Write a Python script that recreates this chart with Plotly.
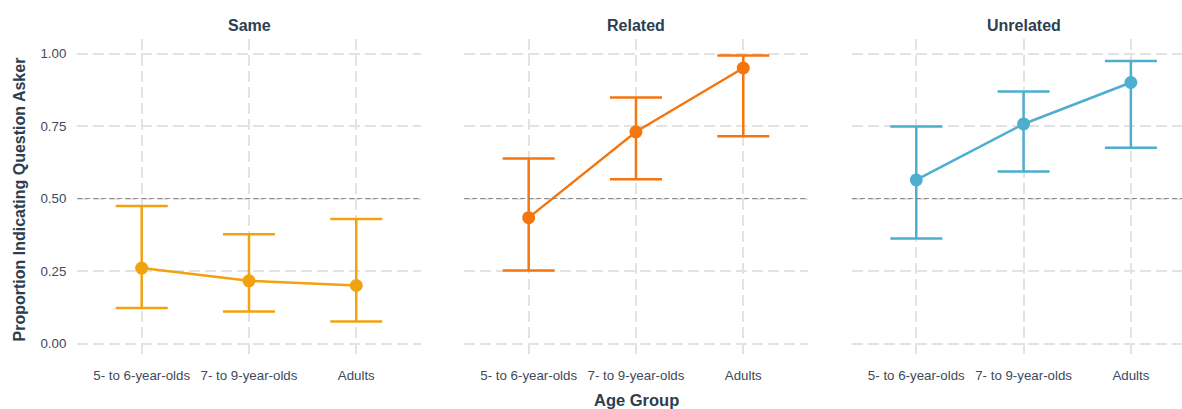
import plotly.graph_objects as go

# ---- data ----
age_groups = ["5- to 6-year-olds", "7- to 9-year-olds", "Adults"]
conditions = ["Same", "Related", "Unrelated"]

same_mean = [0.260, 0.216, 0.200]
same_low = [0.122, 0.110, 0.076]
same_high = [0.474, 0.377, 0.429]

related_mean = [0.434, 0.730, 0.950]
related_low = [0.252, 0.566, 0.715]
related_high = [0.638, 0.848, 0.993]

unrelated_mean = [0.564, 0.757, 0.900]
unrelated_low = [0.362, 0.593, 0.675]
unrelated_high = [0.748, 0.869, 0.974]

y_ticks = [0.0, 0.25, 0.5, 0.75, 1.0]
y_tick_labels = ["0.00", "0.25", "0.50", "0.75", "1.00"]
chance_level = 0.5

colors = ["#F2A20E", "#F5760F", "#4DAECF"]

means = [same_mean, related_mean, unrelated_mean]
lows = [same_low, related_low, unrelated_low]
highs = [same_high, related_high, unrelated_high]

W, H = 1182, 409
FONT = "Liberation Sans, Arial, sans-serif"
TITLE_COL = "#2C3E50"
TICK_COL = "#3E4A5B"
GRID_COL = "#E3E3E3"

fig = go.Figure()

for i, cond in enumerate(conditions):
    m, lo, hi = means[i], lows[i], highs[i]
    xa = "x" if i == 0 else f"x{i+1}"
    ya = "y" if i == 0 else f"y{i+1}"
    fig.add_trace(go.Scatter(
        x=age_groups, y=m, xaxis=xa, yaxis=ya,
        mode="lines+markers",
        line=dict(color=colors[i], width=2.5),
        marker=dict(color=colors[i], size=13),
        error_y=dict(type="data", symmetric=False,
                     array=[h - v for h, v in zip(hi, m)],
                     arrayminus=[v - l for v, l in zip(m, lo)],
                     color=colors[i], thickness=2.5, width=26),
        showlegend=False, name=cond,
    ))

# panel geometry (pixels)
step = 107.3
lefts = [77.3, 464.3, 851.9]
rights = [420.7, 808.0, W]
layout = dict(
    width=W, height=H,
    margin=dict(l=0, r=0, t=39, b=51),
    paper_bgcolor="white", plot_bgcolor="white",
    font=dict(family=FONT, color=TICK_COL, size=13),
)
for i in range(3):
    sfx = "" if i == 0 else str(i + 1)
    span = (rights[i] - lefts[i]) / step
    layout["xaxis" + sfx] = dict(
        domain=[lefts[i] / W, rights[i] / W],
        type="category", categoryorder="array", categoryarray=age_groups,
        range=[-0.6, -0.6 + span],
        showgrid=True, gridcolor=GRID_COL, gridwidth=1.5, griddash="11px,5px",
        zeroline=False, showline=False, ticks="",
        tickfont=dict(size=13.3, color=TICK_COL, family=FONT),
        ticklabelstandoff=8,
        anchor="y" + sfx,
    )
    layout["yaxis" + sfx] = dict(
        domain=[0, 1], range=[-0.05, 1.05],
        tickvals=y_ticks, ticktext=y_tick_labels,
        showticklabels=(i == 0),
        showgrid=True, gridcolor=GRID_COL, gridwidth=1.5, griddash="11px,5px",
        zeroline=False, showline=False, ticks="",
        tickfont=dict(size=13.3, color=TICK_COL, family=FONT),
        ticklabelstandoff=10,
        anchor="x" + sfx,
    )

fig.update_layout(**layout)

shapes = []
annotations = []
for i, cond in enumerate(conditions):
    sfx = "" if i == 0 else str(i + 1)
    shapes.append(dict(type="line", xref=f"x{sfx} domain", yref=f"y{sfx}",
                       x0=0, x1=1, y0=chance_level, y1=chance_level,
                       line=dict(color="#8A8A8A", width=1.2, dash="5px,3px"),
                       layer="above"))
    annotations.append(dict(text=f"<b>{cond}</b>", xref="paper", yref="paper",
                            x=(lefts[i] + 343.4 / 2) / W, y=1 + 14 / 319,
                            showarrow=False, xanchor="center", yanchor="middle",
                            font=dict(size=16, color=TITLE_COL, family=FONT)))

annotations.append(dict(text="<b>Age Group</b>", xref="paper", yref="paper",
                        x=636.3 / W, y=-(400 - 358) / 319,
                        showarrow=False, xanchor="center", yanchor="middle",
                        font=dict(size=16.5, color=TITLE_COL, family=FONT)))
annotations.append(dict(text="<b>Proportion Indicating Question Asker</b>",
                        xref="paper", yref="paper",
                        x=19 / W, y=(358 - 199.5) / 319, textangle=-90,
                        showarrow=False, xanchor="center", yanchor="middle",
                        font=dict(size=16, color=TITLE_COL, family=FONT)))

fig.update_layout(shapes=shapes, annotations=annotations)

fig.write_html("out.html")
